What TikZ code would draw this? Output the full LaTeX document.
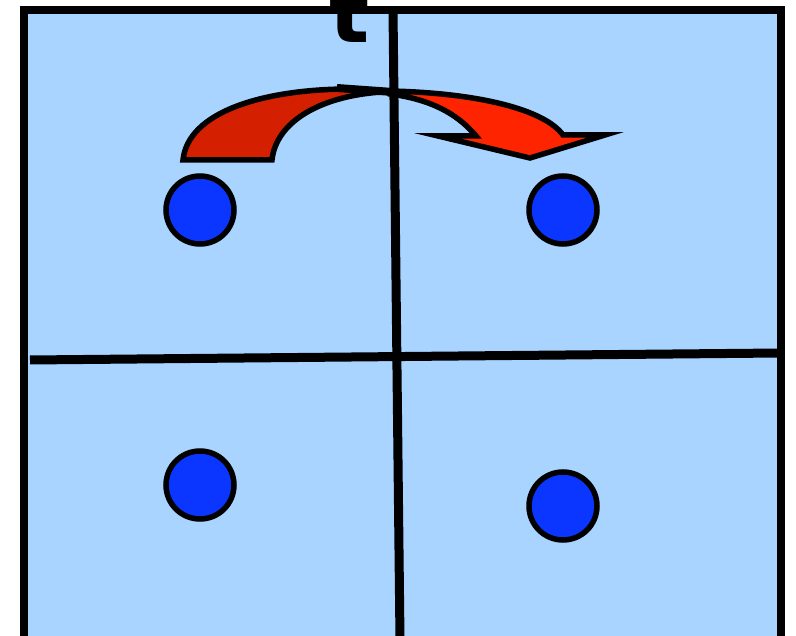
\documentclass[tikz,border=0pt]{standalone}
\usepackage{fontspec}
\newfontfamily\tfont{DejaVu Sans}[BoldFont={DejaVu Sans Bold}]
\definecolor{panel}{HTML}{A8D4FF}
\definecolor{dot}{HTML}{0A36FF}
\definecolor{darkred}{HTML}{D42000}
\definecolor{brightred}{HTML}{FF2400}
\tikzset{
  dotc/.style={fill=dot,draw=black,line width=5.5pt},
  axis/.style={draw=black,line width=9pt},
  arrowpart/.style={draw=black,line width=5.5pt,line join=miter}
}
\begin{document}
\begin{tikzpicture}[x=1pt,y=-1pt]
\useasboundingbox (0,0) rectangle (796,636);
\clip (0,0) rectangle (796,636);
\fill[white] (0,0) rectangle (796,636);
\draw[fill=panel,line width=7.5pt] (24,10) rectangle (781,642);
% dots
\draw[dotc] (200,210) circle (34);
\draw[dotc] (563,210) circle (34);
\draw[dotc] (200,485) circle (34);
\draw[dotc] (563,506) circle (34);
% curved arrow
\draw[arrowpart,fill=darkred] (183,160) .. controls (188,112) and (262,90) .. (345,89)
  -- (382,92) .. controls (320,96) and (276,122) .. (272,160) -- cycle;
\draw[arrowpart,fill=brightred] (390,91) .. controls (480,93) and (545,110) .. (563,135)
  -- (605,135) -- (530,158) -- (438,136) -- (476,136)
  .. controls (456,112) and (428,99) .. (390,94) -- cycle;
\draw[line width=8pt] (337,88) -- (393,92);
% axes
\draw[axis] (30,360) -- (780,353);
\draw[axis] (393,10) -- (400,640);
% label
\node[anchor=base west,inner sep=0pt] (tl) at (329,43) {\tfont\bfseries\fontsize{84}{84}\selectfont t};
\end{tikzpicture}
\end{document}
